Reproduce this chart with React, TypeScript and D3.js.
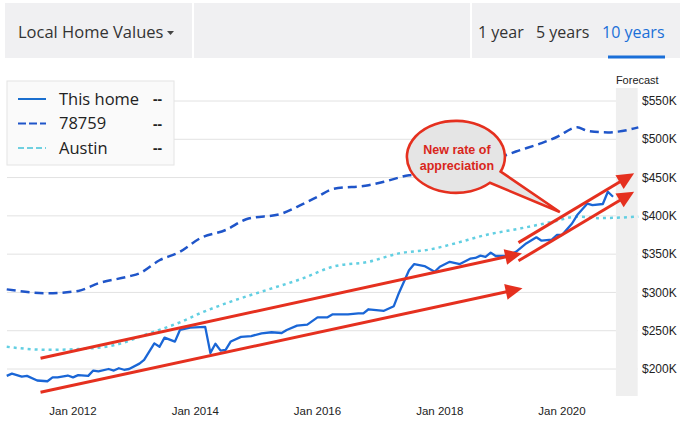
import React from "react";
import * as d3 from "d3";

// ---------- DATA ----------
const homeDates = [
  "2010-12","2011-01","2011-03","2011-04","2011-06","2011-08","2011-09","2011-10","2011-12",
  "2012-01","2012-02","2012-04","2012-05","2012-06","2012-08","2012-09","2012-10","2012-11","2012-12",
  "2013-02","2013-03","2013-05","2013-06","2013-07","2013-09","2013-10","2013-12",
  "2014-03","2014-04","2014-05","2014-06","2014-07","2014-08","2014-10","2014-12",
  "2015-02","2015-04","2015-06","2015-07","2015-09","2015-11",
  "2016-01","2016-03","2016-04","2016-07","2016-09","2016-10","2016-11",
  "2017-02","2017-04","2017-05","2017-07","2017-08","2017-10","2017-12",
  "2018-01","2018-03","2018-05","2018-07","2018-08","2018-09","2018-10","2018-11","2018-12",
  "2019-02","2019-04","2019-06","2019-08","2019-09","2019-11","2019-12",
  "2020-01","2020-03","2020-04","2020-06","2020-07","2020-09","2020-10","2020-11",
];
const homeValues = [
  191,194,190,191,185,184,189,189,191.5,
  189,192,191,198,197,200,198,201,199,200,
  207,212,233.5,229,241,235.7,251,254,
  255,221,233,224,225,236,242,243,
  246.6,248,247,251,256.6,258,
  267.5,267.5,271.4,271.4,272.7,272.7,278,
  276,282,299,329,337,334.5,327,
  333.6,340,337,344,345,348,346.5,352,347.6,
  347.6,353,364,372,367.6,369,375,
  375,390,401,416,414,415.5,431.5,425,
];

const zipDates = [
  "2010-12","2011-08","2012-02","2012-06","2012-12","2013-02","2013-06","2013-10",
  "2014-02","2014-07","2014-11","2015-06","2015-10","2016-01","2016-04","2016-11",
  "2017-02","2017-07","2017-12","2018-05","2019-01","2019-04","2019-09","2019-12",
  "2020-04","2020-06","2020-10","2020-12","2021-04",
];
const zipValues = [
  304,299,302,312,321,325,342,353,
  371,381.5,395.5,403,415,425,435,440,
  444.6,453,455.6,462,477,484,495,503,
  515.6,511,509,510,515.6,
];

const cityDates = [
  "2010-12","2011-08","2012-02","2012-09","2013-04","2013-10","2014-02","2014-08",
  "2015-03","2015-10","2016-04","2016-11","2017-05","2017-11","2018-04","2018-10",
  "2019-05","2019-11","2020-04","2020-08","2021-04",
];
const cityValues = [
  229,225,226,231,246.6,261,273,288,
  303,318,333.6,340,351,356,364,375,
  383.7,392,399,397,399,
];

const yTicks = [200, 250, 300, 350, 400, 450, 500, 550];
const yTickLabels = ["$200K","$250K","$300K","$350K","$400K","$450K","$500K","$550K"];
const xTickDates = ["2012-01","2014-01","2016-01","2018-01","2020-01"];
const xTickLabels = ["Jan 2012","Jan 2014","Jan 2016","Jan 2018","Jan 2020"];

const legendLabels = ["This home", "78759", "Austin"];
const tabLabels = ["1 year", "5 years", "10 years"];
const forecastStart = "2020-11-18";
const forecastEnd = "2021-03-28";

// annotation arrows (date, value)
const arrowFromDates = ["2011-06-21", "2011-06-21", "2019-04-16", "2019-04-16"];
const arrowFromValues = [214, 169.6, 365, 341.3];
const arrowToDates = ["2019-05-07", "2019-05-10", "2021-03-07", "2021-03-07"];
const arrowToValues = [351, 305.4, 455.5, 431.5];
const calloutCenterDate = "2018-04-07";
const calloutCenterValue = 477;
const calloutTipDate = "2019-12-19";
const calloutTipValue = 405;
const calloutLines = ["New rate of", "appreciation"];

// ---------- CHART ----------
const pm = d3.timeParse("%Y-%m");
const pd = d3.timeParse("%Y-%m-%d");

export default function App() {
  const W = 690, H = 434;
  const x = d3.scaleTime().domain([pm("2012-01")!, pm("2020-01")!]).range([73, 562]);
  const y = d3.scaleLinear().domain([200, 550]).range([369, 101]);

  const gridLeft = 7;
  const bandX0 = x(pd(forecastStart)!);
  const bandX1 = x(pd(forecastEnd)!);

  type P = [Date, number];
  const mk = (ds: string[], vs: number[]): P[] => ds.map((d, i) => [pm(d)!, vs[i]]);
  const home = mk(homeDates, homeValues);
  const zip = mk(zipDates, zipValues);
  const city = mk(cityDates, cityValues);

  const lineLin = d3.line<P>().x(d => x(d[0])).y(d => y(d[1]));
  const lineSmooth = d3.line<P>().x(d => x(d[0])).y(d => y(d[1])).curve(d3.curveMonotoneX);

  const red = "#e5301f";
  const axisFont = "'Liberation Sans', Arial, sans-serif";
  const uiFont = "'Open Sans', 'Noto Sans', sans-serif";

  const arrows = arrowFromDates.map((d, i) => {
    const x0 = x(pd(d)!), y0 = y(arrowFromValues[i]);
    const x1 = x(pd(arrowToDates[i])!), y1 = y(arrowToValues[i]);
    const len = Math.hypot(x1 - x0, y1 - y0);
    const ux = (x1 - x0) / len, uy = (y1 - y0) / len;
    const hl = 17, hw = 8;
    const bx = x1 - ux * hl, by = y1 - uy * hl;
    const head = `${x1},${y1} ${bx - uy * hw},${by + ux * hw} ${bx + uy * hw},${by - ux * hw}`;
    return { x0, y0, bx: x1 - ux * (hl - 2), by: y1 - uy * (hl - 2), head };
  });

  // callout
  const cx = x(pd(calloutCenterDate)!), cy = y(calloutCenterValue);
  const rx = 49, ry = 36;
  const tx = x(pd(calloutTipDate)!), ty = y(calloutTipValue);
  const a1 = (24 * Math.PI) / 180, a2 = (46 * Math.PI) / 180;
  const p1 = [cx + rx * Math.cos(a1), cy + ry * Math.sin(a1)];
  const p2 = [cx + rx * Math.cos(a2), cy + ry * Math.sin(a2)];
  const calloutPath = `M${p1[0]},${p1[1]} A${rx},${ry} 0 1 0 ${p2[0]},${p2[1]} L${tx},${ty} Z`;

  const legendColors = ["#1a6fcf", "#1f55c9", "#6fd0e0"];
  const legendDash = ["none", "8 3", "6 3"];

  return (
    <svg width={W} height={H} style={{ position: "fixed", left: 0, top: 0, background: "#fff" }}>
      {/* header */}
      <rect x={5} y={3} width={675} height={55} fill="#f0f0f2" />
      <rect x={192} y={3} width={2} height={55} fill="#fff" />
      <rect x={470} y={3} width={2} height={55} fill="#fff" />
      <text x={18} y={38} fontFamily={uiFont} fontSize={16.5} fill="#333">Local Home Values</text>
      <path d="M167,31 L174,31 L170.5,35 Z" fill="#444" />
      {tabLabels.map((t, i) => (
        <text key={t} x={[478, 536, 602][i]} y={38} fontFamily={uiFont} fontSize={16}
          fill={i === 2 ? "#1a6fd8" : "#333"}>{t}</text>
      ))}
      <rect x={608} y={55.5} width={57} height={3} fill="#1a6fd8" />

      {/* grid */}
      {yTicks.map(v => (
        <line key={v} x1={gridLeft} x2={bandX1} y1={y(v)} y2={y(v)} stroke="#e2e2e2" strokeWidth={1} />
      ))}
      {/* forecast band */}
      <rect x={bandX0} y={y(550) - 13} width={bandX1 - bandX0} height={y(200) + 27 - (y(550) - 13)} fill="#efefef" />
      <text x={bandX0} y={84} fontFamily={axisFont} fontSize={11} fill="#222">Forecast</text>

      {/* y labels */}
      {yTicks.map((v, i) => (
        <text key={v} x={642} y={y(v)} dy="0.35em" fontFamily={axisFont} fontSize={12} fill="#222">{yTickLabels[i]}</text>
      ))}
      {/* x labels */}
      {xTickDates.map((d, i) => (
        <text key={d} x={x(pm(d)!)} y={415} textAnchor="middle" fontFamily={axisFont} fontSize={11.5} fill="#222">{xTickLabels[i]}</text>
      ))}

      {/* series */}
      <path d={lineSmooth(city)!} fill="none" stroke="#62cfe2" strokeWidth={2.5} strokeDasharray="3 4" />
      <path d={lineSmooth(zip)!} fill="none" stroke="#1f55c9" strokeWidth={2.5} strokeDasharray="9 5" />
      <path d={lineLin(home)!} fill="none" stroke="#1a66d6" strokeWidth={2.3} strokeLinejoin="round" />

      {/* legend */}
      <rect x={7} y={81} width={167} height={84} fill="#fafafa" stroke="#e4e4e4" strokeWidth={1} />
      {legendLabels.map((l, i) => {
        const ly = 99 + i * 24.5;
        return (
          <g key={l}>
            <line x1={18} x2={46} y1={ly} y2={ly} stroke={legendColors[i]} strokeWidth={2}
              strokeDasharray={legendDash[i]} />
            <text x={59} y={ly} dy="0.36em" fontFamily={uiFont} fontSize={16.5} fill="#222">{l}</text>
            <text x={153} y={ly} dy="0.36em" fontFamily={uiFont} fontSize={14} fontWeight="bold" fill="#222">--</text>
          </g>
        );
      })}

      {/* annotations */}
      {arrows.map((a, i) => (
        <g key={i}>
          <line x1={a.x0} y1={a.y0} x2={a.bx} y2={a.by} stroke={red} strokeWidth={3} />
          <polygon points={a.head} fill={red} />
        </g>
      ))}
      <path d={calloutPath} fill="#e5e5e5" stroke={red} strokeWidth={2.6} strokeLinejoin="miter" />
      {calloutLines.map((t, i) => (
        <text key={t} x={cx + 1} y={cy - 7 + i * 16} dy="0.35em" textAnchor="middle"
          fontFamily={axisFont} fontWeight="bold" fontSize={12.5} fill="#d9261c">{t}</text>
      ))}
    </svg>
  );
}
